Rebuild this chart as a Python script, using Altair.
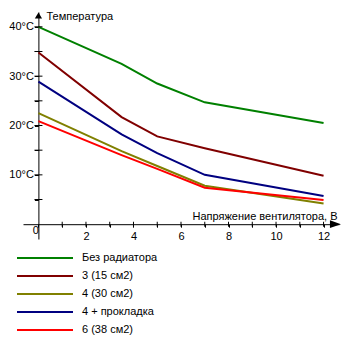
import altair as alt
import pandas as pd

voltage = [0, 3.5, 5, 7, 12]
series_names = ["Без радиатора", "3 (15 см2)", "4 (30 см2)", "4 + прокладка", "6 (38 см2)"]
no_radiator = [40.0, 32.5, 28.5, 24.7, 20.5]
rad_3 = [34.8, 21.7, 17.8, 15.4, 9.8]
rad_4 = [22.5, 14.8, 11.8, 7.8, 4.2]
rad_4_pad = [28.9, 18.2, 14.4, 10.0, 5.7]
rad_6 = [20.9, 14.0, 11.2, 7.4, 4.9]
colors = ["#008000", "#800000", "#808000", "#000080", "#ff0000"]
x_ticks = list(range(0, 13))
y_ticks = [5, 10, 15, 20, 25, 30, 35, 40]

series_values = [no_radiator, rad_3, rad_4, rad_4_pad, rad_6]
rows = []
for name, vals in zip(series_names, series_values):
    for v, t in zip(voltage, vals):
        rows.append({"V": v, "T": t, "series": name})
df = pd.DataFrame(rows)

x_scale = alt.Scale(domain=[-0.65, 12.65], nice=False, zero=False)
y_scale = alt.Scale(domain=[-3, 43], nice=False, zero=False)

FONT = "Liberation Sans"

x_axis = alt.Axis(
    values=x_ticks,
    labelExpr="datum.value % 2 == 0 ? datum.label : ''",
    offset=-14.8, tickSize=3, labelPadding=3,
    labelAlign={"condition": {"test": "datum.value === 0", "value": "right"}, "value": "center"},
    labelBaseline={"condition": {"test": "datum.value === 0", "value": "middle"}, "value": "top"},
    title="Напряжение вентилятора, В",
    titleAlign="right", titleBaseline="middle", titleX=314, titleY=-8,
    grid=False,
)
y_axis = alt.Axis(
    values=y_ticks,
    labelExpr="datum.value % 10 == 0 ? datum.value + '°C' : ''",
    offset=-15.4, tickSize=4, labelPadding=1,
    title="Температура", titleAngle=0, titleAlign="left", titleBaseline="middle",
    titleX=7.6, titleY=4.5,
    grid=False,
)


def xe():
    return alt.X("V:Q", scale=x_scale, axis=x_axis)


def ye():
    return alt.Y("T:Q", scale=y_scale, axis=y_axis)


lines = alt.Chart(df).mark_line(strokeWidth=2, interpolate="linear").encode(
    x=xe(),
    y=ye(),
    color=alt.Color("series:N", scale=alt.Scale(domain=series_names, range=colors),
                    legend=alt.Legend(
                        orient="none", legendX=16, legendY=240, title=None,
                        symbolType="M-5.6,0H5.6", symbolSize=100, symbolStrokeWidth=2,
                        labelOffset=31, rowPadding=7, labelFontSize=11, labelFont=FONT,
                        labelColor="black", padding=0,
                    )),
    order=alt.Order("V:Q"),
)

arrow_x_df = pd.DataFrame({"V": [12.5], "T": [0]})
arrow_y_df = pd.DataFrame({"V": [0], "T": [42.3]})

arrow_x = alt.Chart(arrow_x_df).mark_point(
    shape="M-1,-0.7L1,0L-1,0.7Z", size=121, filled=True, color="black", opacity=1, strokeWidth=0
).encode(x=xe(), y=ye())

arrow_y = alt.Chart(arrow_y_df).mark_point(
    shape="M0,-1L-1.2,1L1.2,1Z", size=36, filled=True, color="black", opacity=1, strokeWidth=0
).encode(x=xe(), y=ye())

xt_df = pd.DataFrame({"V": x_ticks[1:], "T": [0] * 12})
yt_df = pd.DataFrame({"V": [0] * len(y_ticks), "T": y_ticks})

x_tick_marks = alt.Chart(xt_df).mark_tick(orient="vertical", size=5, thickness=1, color="black", opacity=1).encode(
    x=xe(), y=ye())
y_tick_marks = alt.Chart(yt_df).mark_tick(orient="horizontal", size=8, thickness=1, color="black", opacity=1).encode(
    x=xe(), y=ye())

chart = alt.layer(lines, x_tick_marks, y_tick_marks, arrow_x, arrow_y).properties(
    width=316, height=227,
    autosize=alt.AutoSizeParams(type="none"),
    padding={"left": 23, "top": 12, "right": 11, "bottom": 111},
    background="white",
).configure_view(strokeWidth=0).configure_axis(
    domainColor="black", tickColor="black", labelColor="black", titleColor="black",
    labelFont=FONT, titleFont=FONT, labelFontSize=11, titleFontSize=11,
    titleFontWeight="normal", domainWidth=1, tickWidth=1,
)

chart.save("out.html", embed_options={"renderer": "svg", "actions": False})
